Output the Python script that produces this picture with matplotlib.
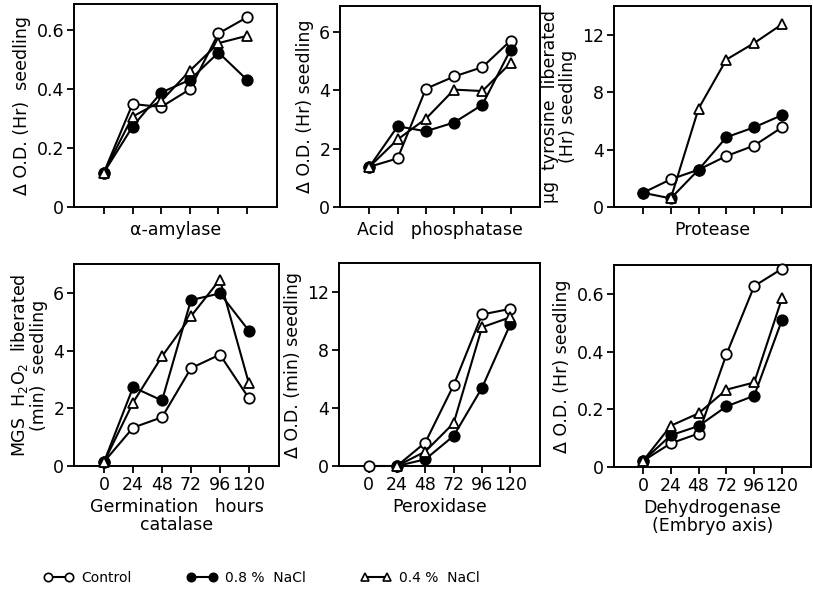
import numpy as np
import matplotlib
matplotlib.use("Agg")
import matplotlib.pyplot as plt
from matplotlib.lines import Line2D

hours = [0, 24, 48, 72, 96, 120]
hour_labels = ["0", "24", "48", "72", "96", "120"]

# alpha-amylase
amy_control = [0.117, 0.35, 0.34, 0.40, 0.59, 0.645]
amy_nacl08 = [0.117, 0.273, 0.389, 0.432, 0.525, 0.432]
amy_nacl04 = [0.117, 0.307, 0.36, 0.463, 0.557, 0.582]

# acid phosphatase
acp_control = [1.38, 1.67, 4.06, 4.48, 4.80, 5.71]
acp_nacl08 = [1.38, 2.77, 2.60, 2.90, 3.51, 5.40]
acp_nacl04 = [1.38, 2.32, 3.03, 4.03, 3.98, 4.94]

# protease
pro_control = [0.99, 1.93, 2.6, 3.55, 4.28, 5.55]
pro_nacl08 = [0.99, 0.6, 2.6, 4.86, 5.55, 6.4]
pro_nacl04 = [None, 0.6, 6.86, 10.27, 11.42, 12.73]

# catalase
cat_control = [0.15, 1.33, 1.69, 3.39, 3.86, 2.35]
cat_nacl08 = [0.15, 2.73, 2.27, 5.75, 5.98, 4.69]
cat_nacl04 = [0.15, 2.2, 3.8, 5.19, 6.46, 2.87]

# peroxidase
per_control = [0, 0, 1.62, 5.58, 10.45, 10.84]
per_nacl08 = [None, 0, 0.46, 2.08, 5.4, 9.8]
per_nacl04 = [None, 0, 1.0, 2.96, 9.57, 10.26]

# dehydrogenase
deh_control = [0.021, 0.082, 0.116, 0.39, 0.627, 0.687]
deh_nacl08 = [0.021, 0.11, 0.142, 0.21, 0.247, 0.51]
deh_nacl04 = [0.021, 0.143, 0.186, 0.268, 0.293, 0.585]

plt.rcParams['font.family'] = 'DejaVu Sans'
plt.rcParams['font.size'] = 12

fig = plt.figure(figsize=(8.13, 5.93), dpi=100)

W, H = 813.0, 593.0
def box(l, t, r, b):
    return [l / W, (H - b) / H, (r - l) / W, (b - t) / H]

panels = [
    (box(74, 4, 277, 207), [amy_control, amy_nacl08, amy_nacl04], (0, 0.69),
     [0, 0.2, 0.4, 0.6], ["0", "0.2", "0.4", "0.6"], "Δ O.D. (Hr)  seedling", "α-amylase", False),
    (box(340, 6, 540, 207), [acp_control, acp_nacl08, acp_nacl04], (0, 6.9),
     [0, 2, 4, 6], ["0", "2", "4", "6"], "Δ O.D. (Hr) seedling", "Acid   phosphatase", False),
    (box(614, 6, 811, 207), [pro_control, pro_nacl08, pro_nacl04], (0, 14),
     [0, 4, 8, 12], ["0", "4", "8", "12"], "μg  tyrosine  liberated\n(Hr) seedling", "Protease", False),
    (box(74, 264, 279, 466), [cat_control, cat_nacl08, cat_nacl04], (0, 7.0),
     [0, 2, 4, 6], ["0", "2", "4", "6"], "MGS  H$_2$O$_2$  liberated\n(min)  seedling",
     "Germination   hours\ncatalase", True),
    (box(339, 263, 540, 466), [per_control, per_nacl08, per_nacl04], (0, 14),
     [0, 4, 8, 12], ["0", "4", "8", "12"], "Δ O.D. (min) seedling", "Peroxidase", True),
    (box(614, 265, 811, 467), [deh_control, deh_nacl08, deh_nacl04], (0, 0.7),
     [0, 0.2, 0.4, 0.6], ["0", "0.2", "0.4", "0.6"], "Δ O.D. (Hr) seedling",
     "Dehydrogenase\n(Embryo axis)", True),
]

styles = [
    dict(marker='o', mfc='white', mec='black'),
    dict(marker='o', mfc='black', mec='black'),
    dict(marker='^', mfc='white', mec='black'),
]
order = [1, 2, 0]

for rect, series, ylim, yt, ytl, ylab, xlab, show_xt in panels:
    ax = fig.add_axes(rect)
    for i in order:
        ys = series[i]
        xs = [h for h, v in zip(hours, ys) if v is not None]
        vs = [v for v in ys if v is not None]
        ax.plot(xs, vs, color='black', lw=1.5, ms=7.5, mew=1.3, zorder=3 + i,
                clip_on=False, **styles[i])
    ax.set_xlim(-25, 145)
    ax.set_ylim(*ylim)
    ax.set_xticks(hours)
    ax.set_yticks(yt)
    ax.set_yticklabels(ytl)
    if show_xt:
        ax.set_xticklabels(hour_labels)
    else:
        ax.set_xticklabels([])
    ax.tick_params(direction='out', length=5, width=1.3, labelsize=12.5, pad=2)
    ax.set_ylabel(ylab, fontsize=12.5, linespacing=0.95)
    ax.set_xlabel(xlab, fontsize=12.5, linespacing=1.0, labelpad=3)
    for s in ax.spines.values():
        s.set_linewidth(1.4)

h_ctrl = Line2D([], [], color='black', lw=1.5, ms=6, mew=1.2, **styles[0])
h_08 = Line2D([], [], color='black', lw=1.5, ms=6, mew=1.2, **styles[1])
h_04 = Line2D([], [], color='black', lw=1.5, ms=6, mew=1.2, **styles[2])
fig.legend([h_ctrl, h_08, h_04], ["Control", "0.8 %  NaCl", "0.4 %  NaCl"],
           loc='center left', bbox_to_anchor=(0.047, 0.025), borderaxespad=0,
           ncol=3, frameon=False, numpoints=2, handlelength=2.15,
           handletextpad=0.55, columnspacing=4.0, fontsize=10)

fig.savefig("out.png", dpi=100)
